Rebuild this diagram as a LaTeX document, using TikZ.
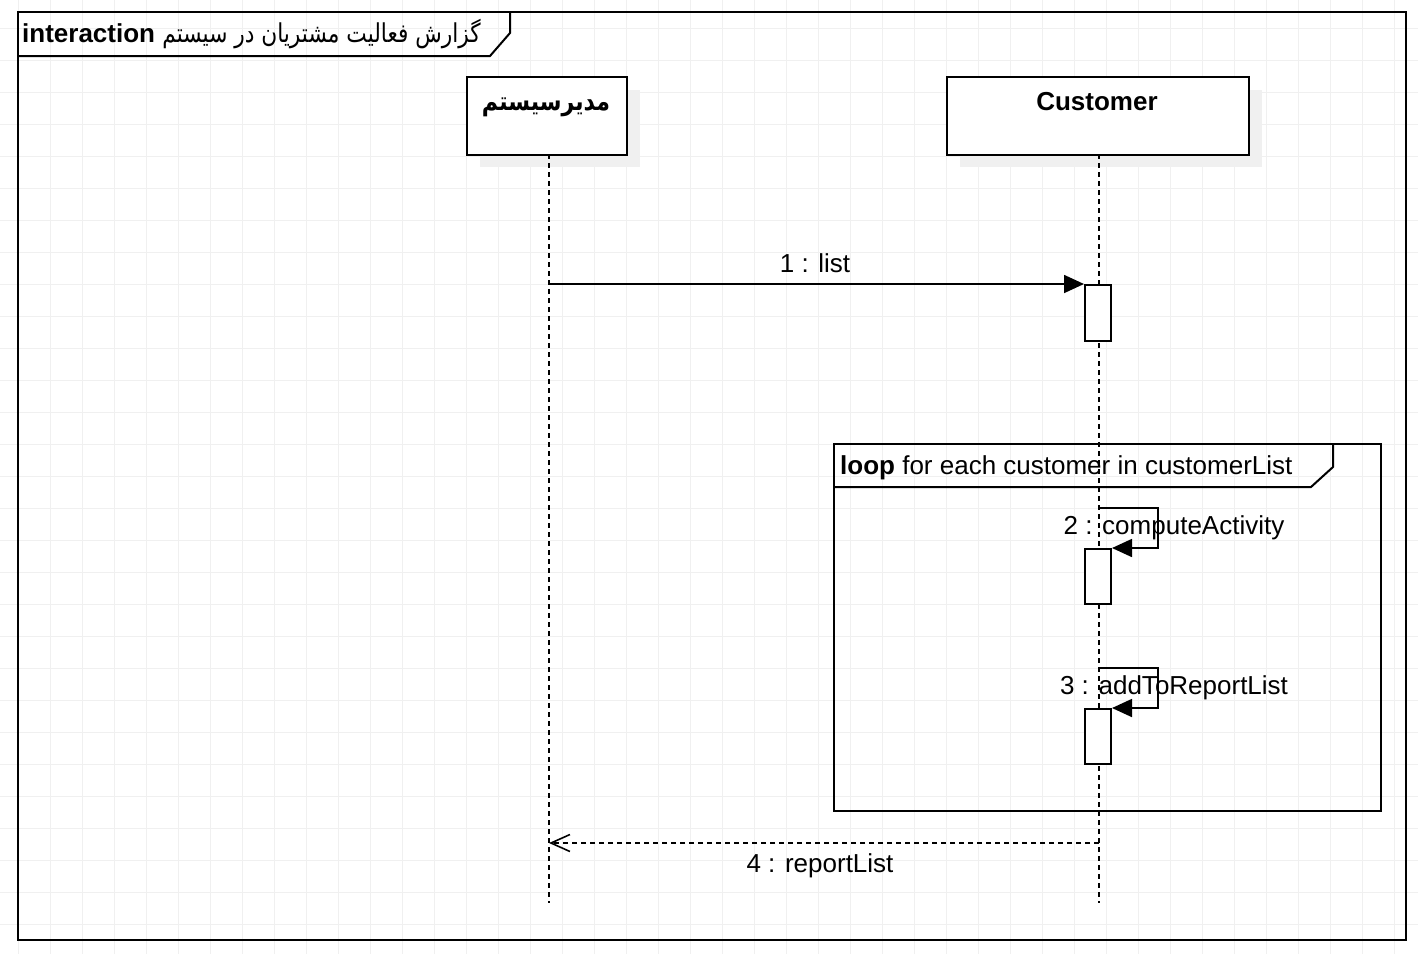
\documentclass[tikz,border=0pt]{standalone}
\usepackage{fontspec}
\setmainfont{Liberation Sans}
\newfontfamily\arabicfont[Script=Arabic]{DejaVu Sans}
\TeXXeTstate=1
\usetikzlibrary{arrows.meta}
\begin{document}
\begin{tikzpicture}[x=1pt,y=-1pt,
  font=\fontsize{26}{30}\selectfont,
  gridline/.style={draw=black!6,line width=1pt},
  frameline/.style={line width=2pt},
  headbox/.style={draw,line width=2pt,fill=white,inner sep=0pt,anchor=north west},
  shadowbox/.style={fill=black!6,draw=none},
  actbox/.style={draw,line width=2pt,fill=white,inner sep=0pt,anchor=north west,minimum width=26pt,minimum height=55pt},
  lifeline/.style={line width=1.8pt,dash pattern=on 5pt off 4pt},
  msg/.style={line width=1.7pt,-{Triangle[length=20pt,width=18pt]}},
  retmsg/.style={line width=1.6pt,dash pattern=on 5pt off 4pt,-{Straight Barb[length=19pt,width=17pt,line width=1.6pt]}},
  lbl/.style={inner sep=0pt,anchor=base}]
\useasboundingbox (0,0) rectangle (1418,954);
\fill[white] (0,0) rectangle (1418,954);
% grid
\foreach \gx in {0,...,43} { \draw[gridline] ({18+32*\gx},0) -- ({18+32*\gx},954); }
\foreach \gy in {0,...,28} { \draw[gridline] (0,{28+32*\gy}) -- (1418,{28+32*\gy}); }
% outer interaction frame
\draw[frameline] (18,12) rectangle (1406,940);
\draw[frameline] (18,56) -- (490,56) -- (510,33) -- (510,12);
\node[inner sep=0pt,anchor=base west] (title) at (22,42)
  {\textbf{interaction} \scalebox{0.835}[1]{\arabicfont\beginR گزارش فعالیت مشتریان در سیستم\endR}};
% lifeline heads
\fill[shadowbox] (480,90) rectangle (640,167);
\node[headbox,minimum width=160pt,minimum height=78pt] (admin) at (466,76) {};
\node[lbl] (adminlbl) at (546,110) {\scalebox{0.85}[1]{\arabicfont\bfseries\beginR مدیرسیستم\endR}};
\fill[shadowbox] (960,90) rectangle (1262,167);
\node[headbox,minimum width=302pt,minimum height=78pt] (cust) at (946,76) {};
\node[lbl] (custlbl) at (1097,110) {\textbf{Customer}};
% lifelines
\coordinate (aTop) at (549,154);
\coordinate (aEnd) at (549,903);
\coordinate (cTop) at (1099,154);
\coordinate (cEnd) at (1099,903);
\draw[lifeline] (aTop) -- (aEnd);
\draw[lifeline] (cTop) -- (cEnd);
% loop fragment
\draw[frameline] (834,444) rectangle (1381,811);
\draw[frameline] (834,487) -- (1311,487) -- (1333,467) -- (1333,444);
\node[inner sep=0pt,anchor=base west] (looplbl) at (840,474)
  {\textbf{loop} for each customer in customerList};
% activations
\node[actbox,minimum height=56pt] (act1) at (1084,284) {};
\node[actbox] (act2) at (1084,548) {};
\node[actbox] (act3) at (1084,708) {};
% message 1
\coordinate (m1) at (549,284);
\draw[msg] (m1) -- (act1.north west);
\node[lbl] (l1) at (815,272) {1 : list};
% message 2 (self)
\coordinate (m2) at (1099,508);
\draw[msg] (m2) -- (1158,508) |- (act2.north east);
\node[lbl] (l2) at (1174,534) {2 : computeActivity};
% message 3 (self)
\coordinate (m3) at (1099,668);
\draw[msg] (m3) -- (1158,668) |- (act3.north east);
\node[lbl] (l3) at (1174,694) {3 : addToReportList};
% return message 4
\coordinate (r4s) at (1099,843);
\coordinate (r4e) at (549,843);
\draw[retmsg] (r4s) -- (r4e);
\node[lbl] (l4) at (820,872) {4 : reportList};
\end{tikzpicture}
\end{document}
